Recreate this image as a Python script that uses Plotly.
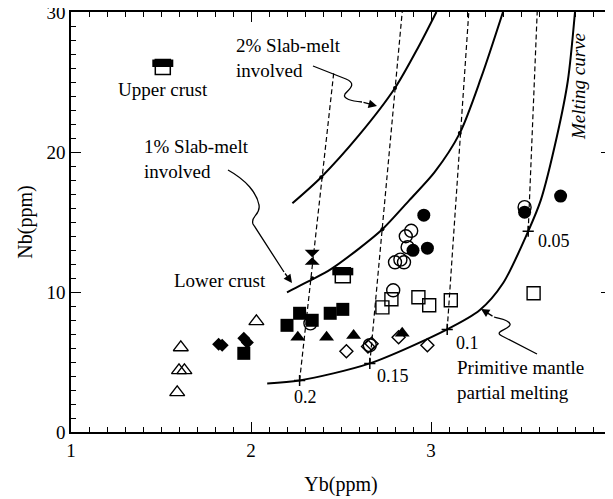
import plotly.graph_objects as go
import numpy as np

# ---------------- data ----------------
# Primitive mantle partial melting curve
melt_x = [2.09, 2.27, 2.66, 3.09, 3.27, 3.40, 3.54, 3.61, 3.70, 3.76, 3.80]
melt_y = [3.47, 3.68, 4.90, 7.33, 8.69, 10.62, 14.34, 16.56, 21.14, 25.07, 30.0]
# 1% slab-melt involved curve
one_x = [2.20, 2.34, 2.44, 2.60, 2.73, 2.88, 3.02, 3.16, 3.28, 3.40]
one_y = [9.98, 10.90, 11.60, 13.10, 14.48, 16.56, 18.56, 21.35, 25.36, 30.0]
# 2% slab-melt involved curve
two_x = [2.23, 2.39, 2.60, 2.80, 2.93, 3.03]
two_y = [16.34, 18.20, 21.20, 24.57, 27.50, 30.0]

# melting degree marks on the melting curve
deg_labels = ["0.2", "0.15", "0.1", "0.05"]
deg_x = [2.27, 2.66, 3.09, 3.54]
deg_y = [3.68, 4.90, 7.33, 14.34]
# tops of the dashed mixing lines and positions of their arrowheads
dash_top_x = [2.46, 2.84, 3.21, 3.59]
dash_top_y = [25.7, 30.0, 30.0, 30.0]
arrow_y = [16.77, 20.49, 24.64, 27.5]
# intersections of dashed lines with slab-melt curves
dot_x = [2.34, 2.39, 2.73, 2.80, 3.16]
dot_y = [10.98, 18.20, 14.48, 24.57, 21.35]

# samples
fsq_x = [1.96, 2.20, 2.27, 2.34, 2.44, 2.51]
fsq_y = [5.62, 7.62, 8.48, 7.98, 8.48, 8.76]
osq_x = [2.73, 2.78, 2.93, 2.99, 3.11, 3.57]
osq_y = [8.90, 9.48, 9.62, 9.05, 9.41, 9.91]
fci_x = [2.96, 2.90, 2.98, 3.72, 3.52]
fci_y = [15.49, 12.98, 13.13, 16.85, 15.70]
oci_x = [2.33, 2.66, 2.79, 2.89, 2.86, 2.87, 2.83, 2.80, 2.85, 3.52]
oci_y = [7.76, 6.20, 10.12, 14.37, 13.98, 13.20, 12.31, 12.12, 12.12, 16.06]
ftr_x = [2.26, 2.42, 2.57, 2.84]
ftr_y = [6.76, 6.76, 6.90, 7.05]
otr_x = [2.03, 1.61, 1.60, 1.63, 1.59]
otr_y = [7.90, 6.04, 4.40, 4.40, 2.83]
fdi_x = [1.82, 1.84, 1.96, 1.98]
fdi_y = [6.26, 6.19, 6.69, 6.40]
odi_x = [2.53, 2.65, 2.67, 2.82, 2.98]
odi_y = [5.76, 6.10, 6.30, 6.76, 6.19]
hg_x = [2.34]
hg_y = [12.48]
crust_names = ["Upper crust", "Lower crust"]
crust_x = [1.51, 2.51]
crust_y = [26.07, 11.19]

# ---------------- layout geometry ----------------
W, H = 613, 499
OFF = 8  # default page body margin
L, R, T, B = 63, 10, 4, 75
XR, YR = [1, 4], [0, 30]
PX0, PX1 = OFF + L, OFF + W - R      # plot area in page pixels
PY0, PY1 = OFF + T, OFF + H - B


def X(px):
    return XR[0] + (px - PX0) / (PX1 - PX0) * (XR[1] - XR[0])


def Y(py):
    return YR[0] + (PY1 - py) / (PY1 - PY0) * (YR[1] - YR[0])


FONT = "Liberation Serif, Times New Roman, serif"
BLACK = "#000000"

fig = go.Figure()

# curves
for cx, cy in [(melt_x, melt_y), (one_x, one_y), (two_x, two_y)]:
    fig.add_trace(go.Scatter(x=cx, y=cy, mode="lines",
                             line=dict(color=BLACK, width=2, shape="spline", smoothing=0.8),
                             hoverinfo="skip"))

# dashed lines
for x0, y0, x1, y1 in zip(deg_x, deg_y, dash_top_x, dash_top_y):
    fig.add_trace(go.Scatter(x=[x0, x1], y=[y0, y1], mode="lines",
                             line=dict(color=BLACK, width=1.2, dash="5px,3px"),
                             hoverinfo="skip"))

# intersection dots and degree marks
fig.add_trace(go.Scatter(x=dot_x, y=dot_y, mode="markers",
                         marker=dict(symbol="circle", size=4, color=BLACK)))
fig.add_trace(go.Scatter(x=deg_x, y=deg_y, mode="markers",
                         marker=dict(symbol="cross-thin", size=8,
                                     line=dict(color=BLACK, width=1.5))))

# sample markers
LW = 1.4
fig.add_trace(go.Scatter(x=otr_x, y=otr_y, mode="markers",
                         marker=dict(symbol="triangle-up-open", size=13,
                                     line=dict(color=BLACK, width=LW), color=BLACK)))
fig.add_trace(go.Scatter(x=fdi_x, y=fdi_y, mode="markers",
                         marker=dict(symbol="diamond", size=10, color=BLACK,
                                     line=dict(color=BLACK, width=0))))
fig.add_trace(go.Scatter(x=odi_x, y=odi_y, mode="markers",
                         marker=dict(symbol="diamond-open", size=10, color=BLACK,
                                     line=dict(color=BLACK, width=LW))))
fig.add_trace(go.Scatter(x=fsq_x, y=fsq_y, mode="markers",
                         marker=dict(symbol="square", size=13, color=BLACK,
                                     line=dict(color=BLACK, width=0))))
fig.add_trace(go.Scatter(x=osq_x, y=osq_y, mode="markers",
                         marker=dict(symbol="square-open", size=13, color=BLACK,
                                     line=dict(color=BLACK, width=LW))))
fig.add_trace(go.Scatter(x=ftr_x, y=ftr_y, mode="markers",
                         marker=dict(symbol="triangle-up", size=13, color=BLACK,
                                     line=dict(color=BLACK, width=0))))
fig.add_trace(go.Scatter(x=fci_x, y=fci_y, mode="markers",
                         marker=dict(symbol="circle", size=13, color=BLACK,
                                     line=dict(color=BLACK, width=0))))
fig.add_trace(go.Scatter(x=oci_x, y=oci_y, mode="markers",
                         marker=dict(symbol="circle-open", size=13, color=BLACK,
                                     line=dict(color=BLACK, width=LW))))
fig.add_trace(go.Scatter(x=hg_x, y=hg_y, mode="markers",
                         marker=dict(symbol="hourglass", size=15, color=BLACK,
                                     line=dict(color=BLACK, width=0))))
# half-filled squares (upper / lower crust)
sq = 15
half_dy = (sq / 4) / ((PY1 - PY0) / (YR[1] - YR[0]))
fig.add_trace(go.Scatter(x=crust_x, y=crust_y, mode="markers",
                         marker=dict(symbol="square", size=sq, color="white",
                                     line=dict(color=BLACK, width=1.5))))
fig.add_trace(go.Scatter(x=crust_x, y=[v + half_dy for v in crust_y], mode="markers",
                         marker=dict(symbol="line-ew", size=sq,
                                     line=dict(color=BLACK, width=sq / 2))))

annotations = []

# arrowheads on dashed lines
for x0, y0, x1, y1, ya in zip(deg_x, deg_y, dash_top_x, dash_top_y, arrow_y):
    xa = x0 + (ya - y0) / (y1 - y0) * (x1 - x0)
    yb = ya - 0.4
    xb = x0 + (yb - y0) / (y1 - y0) * (x1 - x0)
    annotations.append(dict(x=xa, y=ya, ax=xb, ay=yb, xref="x", yref="y",
                            axref="x", ayref="y", text="", showarrow=True,
                            arrowhead=5, arrowsize=1.8, arrowwidth=1.2,
                            arrowcolor=BLACK))

# degree labels
deg_pix = [(305, 397), (393, 376), (467, 343), (554, 241)]
for lab, (px, py) in zip(deg_labels, deg_pix):
    annotations.append(dict(x=X(px), y=Y(py), text=lab, showarrow=False,
                            font=dict(family=FONT, size=18, color=BLACK),
                            xanchor="center", yanchor="middle"))


def txt(px, py, s, anchor="left", size=19, angle=0):
    annotations.append(dict(x=X(px), y=Y(py), text=s, showarrow=False,
                            font=dict(family=FONT, size=size, color=BLACK),
                            xanchor=anchor, yanchor="middle", align="left",
                            textangle=angle))


txt(234, 58, "2% Slab-melt<br>involved")
txt(142, 159, "1% Slab-melt<br>involved")
txt(163, 89, crust_names[0], anchor="center")
txt(172, 280, crust_names[1])
txt(455, 380, "Primitive mantle<br>partial melting")
txt(578, 87, "<i>Melting curve</i>", anchor="center", angle=-90)

# curly pointer lines
shapes = []


def curly(points_cmd, tip, tail):
    s = ""
    for cmd, pts in points_cmd:
        s += cmd + " ".join(f"{X(a):.4f},{Y(b):.4f}" for a, b in pts) + " "
    shapes.append(dict(type="path", path=s.strip(), xref="x", yref="y",
                       line=dict(color=BLACK, width=1.3)))
    annotations.append(dict(x=X(tip[0]), y=Y(tip[1]), ax=X(tail[0]), ay=Y(tail[1]),
                            xref="x", yref="y", axref="x", ayref="y", text="",
                            showarrow=True, arrowhead=2, arrowsize=1.3,
                            arrowwidth=1.3, arrowcolor=BLACK))


curly([("M", [(313, 66)]), ("L", [(346, 79)]),
       ("C", [(358, 84), (348, 90), (345, 94)]),
       ("C", [(342, 99), (352, 101), (362, 102)])],
      tip=(377, 106), tail=(362, 102))
curly([("M", [(228, 170)]), ("C", [(246, 180), (257, 193), (259, 205)]),
       ("C", [(261, 215), (250, 216), (253, 224)]), ("L", [(284, 272)])],
      tip=(292, 283), tail=(284, 272))
curly([("M", [(537, 354)]), ("L", [(502, 336)]),
       ("C", [(492, 331), (512, 329), (510, 324)]),
       ("C", [(508, 319), (500, 319), (494, 317)])],
      tip=(481, 309), tail=(494, 317))

axis_common = dict(showline=True, linecolor=BLACK, linewidth=1.5, mirror="allticks",
                   ticks="inside", ticklen=10, tickwidth=1.3, tickcolor=BLACK,
                   showgrid=False, zeroline=False, ticklabeloverflow="allow",
                   tickfont=dict(family=FONT, size=19, color=BLACK))

fig.update_layout(
    width=W, height=H,
    margin=dict(l=L, r=R, t=T, b=B, autoexpand=False),
    paper_bgcolor="white", plot_bgcolor="white",
    showlegend=False,
    font=dict(family=FONT, color=BLACK),
    xaxis=dict(range=XR, dtick=1, tick0=1, **axis_common,
               minor=dict(dtick=0.1, ticklen=5, ticks="inside", tickwidth=1.2,
                          tickcolor=BLACK, showgrid=False),
               title=dict(text="Yb(ppm)", font=dict(family=FONT, size=20, color=BLACK),
                          standoff=17)),
    yaxis=dict(range=YR, dtick=10, tick0=0, **axis_common,
               minor=dict(dtick=1, ticklen=5, ticks="inside", tickwidth=1.2,
                          tickcolor=BLACK, showgrid=False),
               title=dict(text="Nb(ppm)", font=dict(family=FONT, size=20, color=BLACK),
                          standoff=8)),
    annotations=annotations,
    shapes=shapes,
)

fig.write_html("out.html")
